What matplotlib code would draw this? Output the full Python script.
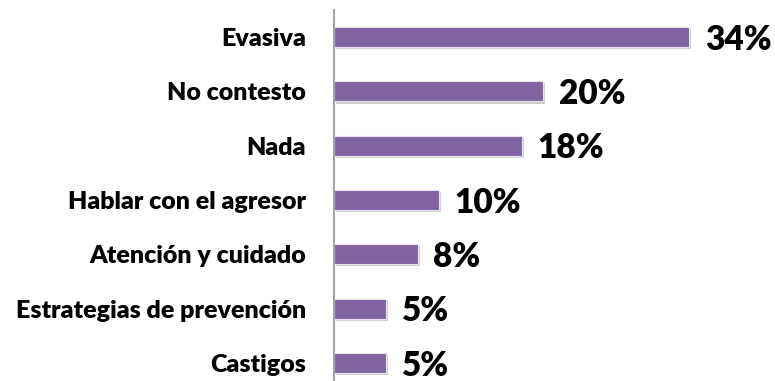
import matplotlib.pyplot as plt
import matplotlib.patheffects as pe

#------------------------------------------------------------
categorias = ["Evasiva", "No contesto", "Nada", "Hablar con el agresor",
              "Atención y cuidado", "Estrategias de prevención", "Castigos"]
porcentajes = [34, 20, 18, 10, 8, 5, 5]

plt.rcParams['font.family'] = ['Lato', 'DejaVu Sans']

fig = plt.figure(figsize=(7.75, 3.81), dpi=100)
ax = fig.add_axes([334/775, -9/381, 1 - 334/775, 380/381])

y = list(range(len(categorias)))
bars = ax.barh(y, porcentajes, height=0.37, color='#8064A2',
               edgecolor='#e8e2f0', linewidth=0.8)
for b in bars:
    b.set_path_effects([pe.SimplePatchShadow(offset=(1.5, -1.5), shadow_rgbFace='#b0b0b0', alpha=0.6),
                        pe.Normal()])

# etiquetas de valor
for yi, v in zip(y, porcentajes):
    ax.text(v + 1.5, yi + 0.05, f"{v}%", va='center', ha='left',
            fontsize=24, fontweight='heavy', color='black')

ax.set_yticks(y)
ax.set_yticklabels(categorias, fontsize=18, fontweight='heavy')
ax.tick_params(axis='y', length=0, pad=20)
ax.set_ylim(len(categorias) - 0.5, -0.5)
ax.set_xlim(0, 42.2)
ax.set_xticks([])

for s in ['top', 'right', 'bottom']:
    ax.spines[s].set_visible(False)
ax.spines['left'].set_color('#a6a6a6')
ax.spines['left'].set_linewidth(1.5)

fig.savefig('out.png', dpi=100)
